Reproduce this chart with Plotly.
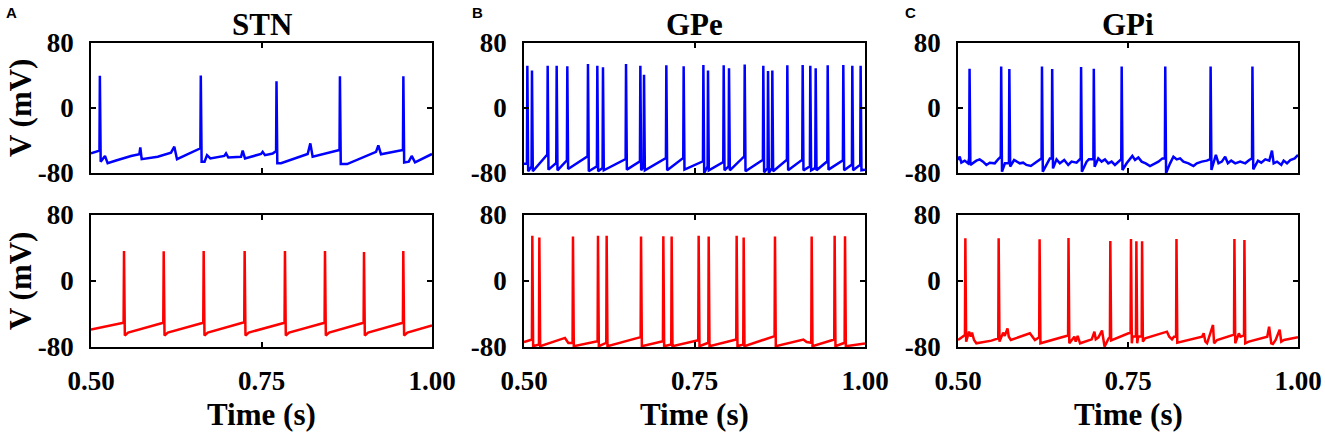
import plotly.graph_objects as go
from plotly.subplots import make_subplots

# ---- STN, top (blue) ----
stn_top_spk_t = [0.513, 0.661, 0.772, 0.865, 0.958]
stn_top_spk_pre = [-52.5, -49.6, -53.0, -51.7, -51.7]
stn_top_spk_peak = [39.8, 40.0, 33.0, 39.0, 39.0]
stn_top_spk_trough = [-66.0, -66.0, -68.0, -69.0, -67.0]
stn_top_base_t = [0.500, 0.5205, 0.5244, 0.5367, 0.5587, 0.5709, 0.5723, 0.5743, 0.5978, 0.6173,
                  0.6222, 0.6261, 0.6665, 0.6701, 0.6750, 0.6955, 0.6980, 0.7014, 0.7200, 0.7224,
                  0.7258, 0.7493, 0.7517, 0.7551, 0.7664, 0.7786, 0.8177, 0.8216, 0.8250, 0.8755,
                  0.9179, 0.9213, 0.9252, 0.9660, 0.9702, 0.9751, 1.000]
stn_top_base_v = [-55.8, -59.0, -68.0, -64.6, -59.0, -57.0, -48.4, -63.0, -60.0, -55.0,
                  -47.6, -63.0, -66.0, -58.0, -62.0, -59.0, -55.8, -61.0, -60.0, -52.5,
                  -62.0, -56.6, -54.0, -58.0, -56.0, -68.0, -56.6, -43.5, -60.0, -69.0,
                  -54.0, -46.0, -57.0, -66.0, -59.0, -67.0, -56.6]

# ---- STN, bottom (red) ----
stn_bot_spk_t = [0.5484, 0.6066, 0.6652, 0.7253, 0.7844, 0.8431, 0.9003, 0.9579]
stn_bot_spk_pre = [-50.6, -50.6, -50.6, -50.0, -50.6, -50.6, -50.6, -50.6]
stn_bot_spk_peak = [36.5, 36.0, 36.5, 36.5, 36.5, 36.5, 35.2, 36.5]
stn_bot_spk_trough = [-66.0, -66.0, -66.0, -66.0, -66.0, -66.0, -66.0, -66.0]
stn_bot_base_t = [0.500, 0.5544, 0.6126, 0.6712, 0.7313, 0.7904, 0.8491, 0.9063, 0.9639, 1.000]
stn_bot_base_v = [-58.7, -62.5, -62.5, -62.5, -62.5, -62.5, -62.5, -62.5, -62.5, -53.9]

# ---- GPe, top (blue) ----
gpe_top_spk_t = [0.5049, 0.5117, 0.5347, 0.5479, 0.5635, 0.5938, 0.6075, 0.6158, 0.6496, 0.6706,
                 0.6760, 0.7087, 0.7341, 0.7630, 0.7698, 0.7928, 0.8006, 0.8236, 0.8509, 0.8578,
                 0.8641, 0.8861, 0.9086, 0.9198, 0.9277, 0.9453, 0.9682, 0.9814, 0.9936]
gpe_top_spk_pre = [-68.5, -71.8, -57.4, -67.7, -64.4, -59.5, -71.8, -73.8, -62.8, -65.6,
                   -71.8, -61.5, -61.5, -65.6, -71.8, -66.5, -71.8, -59.5, -63.6, -73.8,
                   -73.8, -63.6, -63.6, -71.8, -73.8, -65.6, -64.4, -69.7, -69.7]
gpe_top_spk_peak = [52.0, 46.0, 52.0, 52.0, 51.5, 54.0, 52.0, 50.0, 54.0, 52.0,
                    41.0, 52.5, 51.5, 53.0, 46.0, 52.5, 49.0, 53.5, 52.0, 45.5,
                    46.0, 52.5, 53.0, 52.0, 49.0, 52.5, 53.0, 52.0, 52.0]
gpe_top_spk_trough = [-77.9, -77.9, -75.9, -76.7, -75.1, -77.9, -77.9, -76.7, -75.9, -76.7,
                      -76.7, -76.7, -75.9, -80.0, -76.7, -76.7, -76.7, -77.9, -79.2, -80.0,
                      -77.9, -76.7, -76.7, -76.7, -76.7, -75.9, -76.7, -76.7, -76.7]
gpe_top_base_t = [0.500, 1.000]
gpe_top_base_v = [-68.5, -75.9]

# ---- GPe, bottom (red) ----
gpe_bot_spk_t = [0.5122, 0.5225, 0.5718, 0.6085, 0.6212, 0.6716, 0.7043, 0.7165,
                 0.7561, 0.7708, 0.8118, 0.8221, 0.8680, 0.9218, 0.9555, 0.9707]
gpe_bot_spk_pre = [-70.9, -77.0, -74.9, -72.9, -74.9, -68.0, -72.9, -77.0,
                   -71.7, -74.9, -70.9, -77.0, -66.8, -74.9, -70.9, -74.9]
gpe_bot_spk_peak = [54.7, 52.7, 53.9, 54.7, 54.7, 53.9, 54.3, 53.9,
                    54.7, 53.9, 54.7, 52.7, 53.9, 53.9, 54.7, 54.3]
gpe_bot_spk_trough = [-79.0] * 16
gpe_bot_base_t = [0.500, 0.5601, 0.5650, 0.9096, 0.9145, 1.000]
gpe_bot_base_v = [-74.1, -69.0, -75.0, -70.9, -74.0, -75.7]

# ---- GPi, top (blue) ----
gpi_top_spk_t = [0.5170, 0.5635, 0.5755, 0.6235, 0.6385, 0.6810, 0.6997, 0.7407, 0.8048, 0.8715, 0.9330]
gpi_top_spk_pre = [-62.0, -60.0, -68.0, -62.0, -62.0, -62.0, -63.0, -63.0, -62.0, -63.0, -62.0]
gpi_top_spk_peak = [48.4, 51.0, 48.0, 51.0, 48.0, 50.6, 48.4, 51.0, 51.0, 51.0, 51.0]
gpi_top_spk_trough = [-70.0, -78.4, -72.0, -78.4, -74.3, -78.4, -72.2, -76.3, -80.0, -76.3, -75.5]
gpi_top_base_t = [0.5000, 0.5025, 0.5049, 0.5098, 0.5147, 0.5270, 0.5319, 0.5368, 0.5417, 0.5467,
                  0.5540, 0.5589, 0.5690, 0.5825, 0.5874, 0.5909, 0.5958, 0.6007, 0.6071, 0.6130,
                  0.6179, 0.6326, 0.6351, 0.6449, 0.6498, 0.6562, 0.6621, 0.6670, 0.6744, 0.6778,
                  0.6891, 0.6925, 0.7063, 0.7112, 0.7161, 0.7210, 0.7259, 0.7308, 0.7358, 0.7480,
                  0.7529, 0.7564, 0.7603, 0.7652, 0.7701, 0.7760, 0.7824, 0.7898, 0.7947, 0.8006,
                  0.8119, 0.8168, 0.8217, 0.8266, 0.8315, 0.8389, 0.8463, 0.8512, 0.8585, 0.8659,
                  0.8792, 0.8831, 0.8880, 0.8929, 0.8969, 0.9018, 0.9077, 0.9150, 0.9224, 0.9283,
                  0.9411, 0.9460, 0.9519, 0.9578, 0.9617, 0.9642, 0.9691, 0.9754, 0.9789, 0.9838,
                  0.9887, 0.9951, 1.0000]
gpi_top_base_v = [-64.0, -59.9, -67.3, -64.8, -68.1, -64.8, -63.2, -66.0, -70.1, -67.3,
                  -68.1, -63.2, -68.0, -64.0, -66.0, -68.1, -67.3, -70.1, -71.4, -68.1,
                  -64.8, -66.0, -62.0, -63.2, -68.1, -64.0, -70.1, -66.0, -67.3, -64.0,
                  -66.0, -63.2, -62.0, -66.0, -63.2, -68.1, -66.0, -70.1, -66.0, -68.1,
                  -62.0, -59.0, -64.0, -60.8, -66.0, -68.1, -71.4, -68.1, -66.0, -62.0,
                  -68.1, -59.9, -63.2, -62.0, -66.0, -68.1, -71.4, -68.1, -66.0, -64.8,
                  -57.8, -68.1, -66.0, -59.9, -68.1, -64.8, -68.1, -66.0, -68.1, -64.0,
                  -64.8, -67.3, -63.2, -64.8, -52.5, -68.1, -66.0, -70.1, -64.8, -68.1,
                  -64.0, -62.0, -57.8]

# ---- GPi, bottom (red) ----
gpi_bot_spk_t = [0.5108, 0.5598, 0.6200, 0.6625, 0.7240, 0.7544, 0.7623, 0.7707, 0.8213, 0.9065, 0.9212]
gpi_bot_spk_pre = [-65.5, -69.5, -68.3, -66.0, -68.0, -63.0, -67.0, -67.0, -67.5, -65.0, -66.0]
gpi_bot_spk_peak = [51.8, 51.8, 50.6, 52.2, 48.6, 51.0, 48.2, 48.2, 51.0, 51.0, 49.8]
gpi_bot_spk_trough = [-73.5, -73.5, -75.5, -75.5, -72.0, -75.5, -75.5, -73.5, -74.7, -75.5, -75.5]
gpi_bot_base_t = [0.5000, 0.5049, 0.5162, 0.5187, 0.5206, 0.5236, 0.5270, 0.5492, 0.5664, 0.5688,
                  0.5728, 0.5747, 0.5777, 0.6057, 0.6091, 0.6131, 0.6573, 0.6711, 0.6731, 0.6760,
                  0.6795, 0.6967, 0.7006, 0.7026, 0.7065, 0.7118, 0.7155, 0.7213, 0.7507, 0.7567,
                  0.7650, 0.7753, 0.8073, 0.8107, 0.8147, 0.8176, 0.8589, 0.8613, 0.8638, 0.8663,
                  0.8750, 0.8766, 0.8810, 0.9031, 0.9130, 0.9154, 0.9277, 0.9548, 0.9575, 0.9607,
                  0.9631, 0.9671, 0.9730, 0.9754, 0.9794, 1.0000]
gpi_bot_base_v = [-71.5, -68.3, -61.4, -67.5, -62.6, -71.5, -75.5, -72.3, -62.6, -66.6,
                  -57.4, -67.5, -71.5, -63.4, -66.6, -71.5, -67.5, -67.5, -73.5, -66.6,
                  -75.5, -70.7, -61.4, -70.7, -68.3, -60.0, -79.6, -70.0, -63.4, -67.5,
                  -67.5, -69.5, -61.4, -67.5, -70.7, -67.5, -67.5, -63.4, -73.5, -75.5,
                  -53.3, -75.5, -71.5, -65.5, -63.4, -67.5, -73.5, -67.5, -55.4, -75.5,
                  -76.4, -71.5, -59.0, -73.5, -71.5, -68.3]

titles = ["STN", "GPe", "GPi"]
letters = ["A", "B", "C"]
x_ticks = [0.5, 0.75, 1.0]
x_ticktext = ["0.50", "0.75", "1.00"]
y_ticks = [-80, 0, 80]
y_ticktext = ["-80", "0", "80"]


def build_trace(spk_t, spk_pre, spk_peak, spk_trough, base_t, base_v):
    # merge subthreshold knots with the spikes (upstroke, peak, after-hyperpolarisation)
    pts = list(zip(base_t, base_v))
    for t, pre, peak, trough in zip(spk_t, spk_pre, spk_peak, spk_trough):
        pts += [(t - 0.0006, pre), (t, peak), (t + 0.0012, trough)]
    pts.sort()
    return [p[0] for p in pts], [p[1] for p in pts]


traces = {
    (1, 1): (build_trace(stn_top_spk_t, stn_top_spk_pre, stn_top_spk_peak, stn_top_spk_trough,
                         stn_top_base_t, stn_top_base_v), "#0000FF"),
    (2, 1): (build_trace(stn_bot_spk_t, stn_bot_spk_pre, stn_bot_spk_peak, stn_bot_spk_trough,
                         stn_bot_base_t, stn_bot_base_v), "#FF0000"),
    (1, 2): (build_trace(gpe_top_spk_t, gpe_top_spk_pre, gpe_top_spk_peak, gpe_top_spk_trough,
                         gpe_top_base_t, gpe_top_base_v), "#0000FF"),
    (2, 2): (build_trace(gpe_bot_spk_t, gpe_bot_spk_pre, gpe_bot_spk_peak, gpe_bot_spk_trough,
                         gpe_bot_base_t, gpe_bot_base_v), "#FF0000"),
    (1, 3): (build_trace(gpi_top_spk_t, gpi_top_spk_pre, gpi_top_spk_peak, gpi_top_spk_trough,
                         gpi_top_base_t, gpi_top_base_v), "#0000FF"),
    (2, 3): (build_trace(gpi_bot_spk_t, gpi_bot_spk_pre, gpi_bot_spk_peak, gpi_bot_spk_trough,
                         gpi_bot_base_t, gpi_bot_base_v), "#FF0000"),
}

# full window; the page's default body margin is removed when the page loads
W, H = 1325, 435
col_px = [(91, 432), (524, 865), (958, 1298)]
row_px = [(43, 173), (215, 347)]


def px_x(x):
    return x / W


def px_y(y):
    return 1 - y / H


fig = make_subplots(rows=2, cols=3)

for (r, c), ((xs, ys), color) in traces.items():
    fig.add_trace(go.Scatter(x=xs, y=ys, mode="lines",
                             line=dict(color=color, width=2.5),
                             showlegend=False, hoverinfo="skip"),
                  row=r, col=c)

serif = "Liberation Serif, Times New Roman, serif"
tick_font = dict(family=serif, size=27, color="black", weight="bold")

for r in (1, 2):
    for c in (1, 2, 3):
        x0, x1 = col_px[c - 1]
        y0, y1 = row_px[r - 1]
        fig.update_xaxes(domain=[px_x(x0), px_x(x1)], range=[0.5, 1.0], automargin=False,
                         tickvals=x_ticks, ticktext=x_ticktext,
                         showticklabels=(r == 2), ticklabelstandoff=9,
                         ticks="inside", ticklen=5, tickwidth=1.5, tickcolor="black",
                         showline=True, linecolor="black", linewidth=1.5, mirror="ticks",
                         showgrid=False, zeroline=False, tickfont=tick_font,
                         row=r, col=c)
        fig.update_yaxes(domain=[px_y(y1), px_y(y0)], range=[-80, 80], automargin=False,
                         tickvals=y_ticks, ticktext=y_ticktext, ticklabelstandoff=10,
                         ticks="inside", ticklen=5, tickwidth=1.5, tickcolor="black",
                         showline=True, linecolor="black", linewidth=1.5, mirror="ticks",
                         showgrid=False, zeroline=False, tickfont=tick_font,
                         row=r, col=c)

annotations = []
label_font = dict(family=serif, size=31, color="black", weight="bold")
for i, (x0, x1) in enumerate(col_px):
    xc = px_x((x0 + x1) / 2)
    annotations.append(dict(text=titles[i], x=xc, y=px_y(24), xref="paper", yref="paper",
                            xanchor="center", yanchor="middle", showarrow=False, font=label_font))
    annotations.append(dict(text="Time (s)", x=xc, y=px_y(414), xref="paper", yref="paper",
                            xanchor="center", yanchor="middle", showarrow=False, font=label_font))
letter_x = [11, 477, 910]
for i, lx in enumerate(letter_x):
    annotations.append(dict(text=letters[i], x=px_x(lx), y=px_y(13), xref="paper", yref="paper",
                            xanchor="center", yanchor="middle", showarrow=False,
                            font=dict(family="Liberation Sans, Arial, sans-serif", size=15,
                                      color="black", weight="bold")))
for yc in (108, 281):
    annotations.append(dict(text="V (mV)", x=px_x(20), y=px_y(yc), xref="paper", yref="paper",
                            xanchor="center", yanchor="middle", textangle=-90, showarrow=False,
                            font=label_font))

fig.update_layout(width=W, height=H,
                  margin=dict(l=0, r=0, t=0, b=0, pad=0, autoexpand=False),
                  plot_bgcolor="white", paper_bgcolor="white",
                  annotations=annotations, showlegend=False)

fig.write_html("out.html", config={"displayModeBar": False},
               post_script="document.body.style.margin='0';document.body.style.overflow='hidden';")
